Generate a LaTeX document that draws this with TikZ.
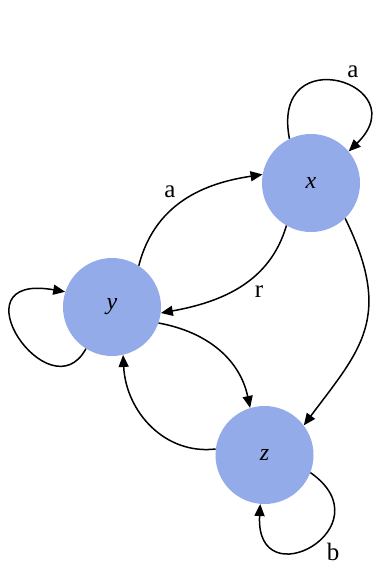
\documentclass[tikz,border=0pt]{standalone}
\usepackage{fontspec}
\setmainfont{Liberation Serif}
\usetikzlibrary{arrows.meta}
\definecolor{nodeblue}{RGB}{147,171,232}
\begin{document}
\begin{tikzpicture}[x=1pt,y=-1pt,
  state/.style={circle,fill=nodeblue,minimum size=98pt,inner sep=0pt,font=\fontsize{24}{28}\selectfont\itshape},
  edge/.style={line width=1.5pt,-{Triangle[length=12pt,width=10pt]}},
  lab/.style={font=\fontsize{25}{28}\selectfont}]
\useasboundingbox (0,0) rectangle (386,574);
\node[state] (x) at (311,183) {x};
\node[state] (y) at (112,307) {y};
\node[state] (z) at (264.5,455) {z};
% y -> x
\draw[edge] (y.57) .. controls (156,198) and (213,182) .. (x.170);
\node[lab] (la1) at (170,192) {a};
% x -> y
\draw[edge] (x.240) .. controls (270,282) and (222,302) .. (y.-7);
\node[lab] (lr) at (259,292) {r};
% y -> z
\draw[edge] (y.-19) .. controls (208,332) and (240,360) .. (z.107);
% z -> y
\draw[edge] (z.173) .. controls (165,455) and (126,412) .. (y.-77);
% x -> z
\draw[edge] (x.-46) .. controls (394,318) and (360,350) .. (z.37);
% loop x
\draw[edge] (x.116) .. controls (270,38) and (418,84) .. (x.40);
\node[lab] (la2) at (353,72) {a};
% loop y
\draw[edge] (y.238) .. controls (50,415) and (-48,272) .. (y.162);
% loop z
\draw[edge] (z.-21) .. controls (388,527) and (255,600) .. (z.265);
\node[lab] (lb) at (333,552) {b};
\end{tikzpicture}
\end{document}
